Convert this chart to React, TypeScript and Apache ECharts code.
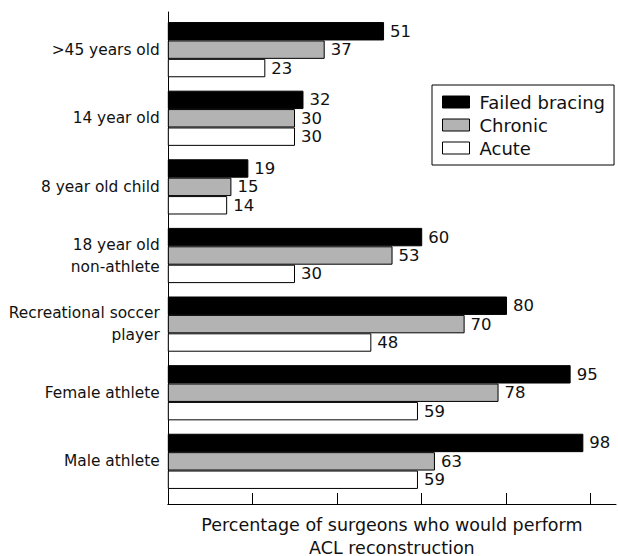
import React, { useEffect, useRef } from "react";
import * as echarts from "echarts";

const categories = [
  ">45 years old",
  "14 year old",
  "8 year old child",
  "18 year old\nnon-athlete",
  "Recreational soccer\nplayer",
  "Female athlete",
  "Male athlete",
];
const failedBracing = [51, 32, 19, 60, 80, 95, 98];
const chronic = [37, 30, 15, 53, 70, 78, 63];
const acute = [23, 30, 14, 30, 48, 59, 59];
const tickValues = [0, 20, 40, 60, 80, 100];
const seriesNames = ["Failed bracing", "Chronic", "Acute"];
const seriesColors = ["#000000", "#b3b3b3", "#ffffff"];

const FONT = "DejaVu Sans";

export default function App() {
  const ref = useRef<HTMLDivElement>(null);
  useEffect(() => {
    if (!ref.current) return;
    const chart = echarts.init(ref.current, null, { renderer: "svg" });
    const dataSets = [failedBracing, chronic, acute];
    chart.setOption({
      animation: false,
      backgroundColor: "#ffffff",
      textStyle: { fontFamily: FONT },
      legend: {
        orient: "vertical",
        left: 432,
        top: 85,
        padding: [8, 9, 8, 10],
        borderColor: "#000",
        borderWidth: 1,
        icon: "rect",
        itemWidth: 27,
        itemHeight: 12,
        itemGap: 5,
        data: seriesNames,
        textStyle: { fontFamily: FONT, fontSize: 18, color: "#111", padding: [0, 0, 0, 5] },
        itemStyle: { borderColor: "#000", borderWidth: 1 },
      },
      grid: [
        { left: 167.8, width: 448.2, top: 15.35, height: 480.3, outerBoundsMode: "none", containLabel: false },
        { left: 167.8, width: 448.2, top: 12, height: 492, outerBoundsMode: "none", containLabel: false },
      ],
      xAxis: [
        { gridIndex: 0, type: "value", min: 0, max: 105.7, show: false },
        {
          gridIndex: 1,
          type: "value",
          min: 0,
          max: 106,
          axisLine: { show: true, lineStyle: { color: "#000", width: 1 } },
          axisTick: {
            show: true,
            inside: true,
            length: 11,
            customValues: tickValues,
            lineStyle: { color: "#000", width: 1 },
          },
          axisLabel: { show: false },
          splitLine: { show: false },
          name: "Percentage of surgeons who would perform\nACL reconstruction",
          nameLocation: "middle",
          nameGap: 9,
          nameTextStyle: { fontFamily: FONT, fontSize: 17.5, color: "#111", lineHeight: 23, verticalAlign: "top" },
        },
      ],
      yAxis: [
        {
          gridIndex: 0,
          type: "category",
          inverse: true,
          data: categories,
          axisLine: { show: false },
          axisTick: { show: false },
          axisLabel: { fontFamily: FONT, fontSize: 15.4, color: "#111", margin: 8, lineHeight: 22 },
        },
        {
          gridIndex: 1,
          type: "value",
          min: 0,
          max: 1,
          axisLine: { show: true, lineStyle: { color: "#000", width: 1 } },
          axisTick: { show: false },
          axisLabel: { show: false },
          splitLine: { show: false },
        },
      ],
      series: seriesNames.map((name, i) => ({
        name,
        type: "bar",
        xAxisIndex: 0,
        yAxisIndex: 0,
        data: dataSets[i],
        barWidth: 18.4,
        barGap: "0%",
        itemStyle: { color: seriesColors[i], borderColor: "#000", borderWidth: 1 },
        label: {
          show: true,
          position: "right",
          distance: 6,
          fontFamily: FONT,
          fontSize: 16.5,
          color: "#111",
        },
      })),
    });
    return () => chart.dispose();
  }, []);
  return (
    <div
      ref={ref}
      style={{ position: "fixed", left: 0, top: 0, width: 618, height: 556 }}
    />
  );
}
